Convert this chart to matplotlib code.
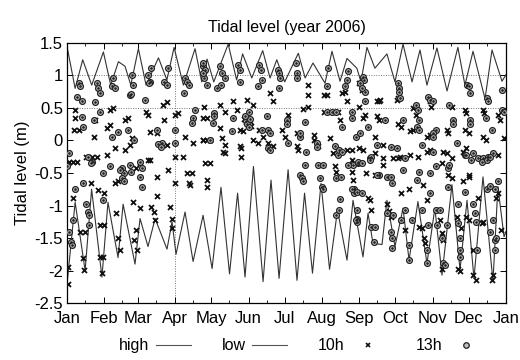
import numpy as np
import matplotlib
matplotlib.use('Agg')
import matplotlib.pyplot as plt
from matplotlib.ticker import FixedLocator, FuncFormatter
from matplotlib.lines import Line2D

plt.rcParams['font.family'] = ['Liberation Sans', 'DejaVu Sans']

# month starts (day of year 2006) and labels
month_days = [0, 31, 59, 90, 120, 151, 181, 212, 243, 273, 304, 334, 365]
month_labels = ['Jan', 'Feb', 'Mar', 'Apr', 'May', 'Jun', 'Jul', 'Aug', 'Sep', 'Oct', 'Nov', 'Dec', 'Jan']

# high water envelope (day, level m)
high_line = [(0, 1.44), (6.7, 0.80), (13, 1.24), (20.5, 0.85), (30.2, 1.36), (36.3, 0.85),
             (42.7, 1.21), (48.2, 1.14), (53, 0.85), (59.3, 1.41), (65.7, 0.85), (76, 1.27),
             (83, 0.93), (89, 1.43), (96.7, 0.85), (106.4, 1.41), (112, 0.90), (116.4, 1.25),
             (122, 0.90), (134, 1.48), (141, 0.93), (146, 1.33), (153.6, 0.96), (162.7, 1.38),
             (168.8, 0.96), (174.4, 1.24), (181, 0.90), (192.3, 1.34), (198, 0.96), (204.5, 1.19),
             (214.5, 0.88), (220.3, 1.37), (227, 0.91), (232.8, 1.26), (241, 1.11), (244.4, 0.90),
             (249.4, 1.43), (256, 1.11), (266, 1.33), (272.7, 0.90), (279.4, 1.48), (286.9, 0.90),
             (293.5, 1.39), (299.3, 0.85), (307.6, 1.42), (316, 0.76), (325, 1.43), (330.9, 0.85),
             (337.6, 1.37), (347.6, 0.64), (353.4, 1.39), (361.7, 0.91), (365, 1.01)]

# low water envelope (day, level m)
low_line = [(0, -2.2), (6.7, -0.95), (15, -2.0), (20.4, -0.75), (29, -2.1), (34, -0.95),
            (42.4, -1.8), (46.6, -0.98), (56.5, -1.9), (60.7, -1.2), (67.3, -1.63), (73.2, -1.2),
            (83.1, -1.67), (87.3, -1.25), (90.6, -1.75), (98.1, -1.1), (104.8, -1.86), (113.1, -1.15),
            (120.6, -1.97), (128, -0.72), (135.1, -2.05), (141.8, -0.81), (148, -2.1), (155, -0.4),
            (163, -2.17), (169.6, -0.61), (176.3, -2.12), (183.8, -0.45), (191.2, -2.15), (197.5, -0.81),
            (204.1, -2.04), (211.2, -0.66), (218.3, -1.98), (224.9, -1.07), (232.8, -1.84), (237.8, -0.92),
            (246.1, -1.79), (250.3, -1.12), (254.4, -1.58), (261.9, -1.6), (266, -0.92), (272.7, -1.63),
            (279.4, -1.04), (284.4, -1.84), (291.8, -0.94), (299.3, -1.89), (305.9, -1.04), (311.8, -2.07),
            (320.1, -0.68), (326.8, -1.99), (332.6, -0.92), (338.4, -2.12), (345.9, -0.56), (354.2, -2.17),
            (358.3, -0.71), (363.4, -1.48), (365, -1.4)]

# level at 10h (day, level m)
pts_10h = [(7, 0.47), (7, 0.35), (6, 0.16), (10, 0.16), (23, 0.32), (22, 0.05), (33, 0.19), (36, 0.24),
           (36, 0.47), (38, 0.5), (48, 0.32), (51, 0.35), (54, 0.04), (66, 0.44), (67, 0.39), (69, 0.13),
           (75, 0.11), (80, 0.55), (83, 0.59), (81, 0.32), (90, 0.39), (92, 0.42), (98, 0.05), (105, -0.04),
           (113, 0.0), (116, 0.0), (2, -0.33), (5, -0.33), (8, -0.33), (16, -0.25), (21, -0.25), (25, -0.25),
           (33, -0.22), (40, -0.12), (48, -0.15), (52, -0.07), (57, -0.42), (67, -0.3), (75, -0.56),
           (83, -0.07), (90, -0.25), (96, -0.25), (61, -0.35),
           (1, -1.94), (1, -2.2), (5, -0.89), (13, -1.81), (14, -1.99), (11, -1.4), (15, -1.4), (20, -0.66),
           (27, -1.79), (30, -1.79), (29, -2.04), (27, -1.3), (31, -1.3), (26, -0.76), (31, -0.81),
           (40, -0.66), (42, -0.63), (41, -1.12), (42, -1.5), (44, -1.68), (55, -0.94), (61, -1.04),
           (56, -1.53), (58, -1.68), (57, -1.38), (69, -0.3), (70, -1.02), (72, -1.1), (73, -1.22),
           (75, -0.86), (84, -0.45), (86, -1.02), (87, -1.2), (87, -1.35), (90, -0.66), (100, -0.5),
           (104, -0.5), (101, -0.66), (102, -0.68), (115, -0.35), (119, -0.35), (116, -0.61), (116, -0.71),
           (113, 0.34), (116, 0.34), (114, 0.52), (127, 0.55), (131, 0.44), (138, 0.6), (141, 0.47),
           (150, 0.62), (155, 0.55), (169, 0.73), (171, 0.6), (184, 0.39), (196, 0.49), (200, 0.52),
           (214, 0.7), (214, 0.44), (225, 0.44), (227, 0.32), (229, 0.73), (233, 0.6), (127, 0.19),
           (144, 0.16), (146, 0.14), (160, 0.16), (163, 0.06), (179, 0.16), (181, 0.06), (191, 0.11),
           (205, 0.08), (205, 0.01), (219, 0.03), (113, 0.01), (119, 0.01), (129, 0.03), (131, -0.07),
           (130, -0.17), (144, -0.09), (145, -0.12), (145, -0.25), (155, 0.01), (159, -0.04),
           (167, -0.04), (171, -0.09), (191, -0.09), (208, -0.09), (209, -0.09), (233, -0.15),
           (131, -0.2), (221, -0.2), (223, -0.4), (224, -0.48), (237, -0.48), (238, -0.61), (192, -0.15),
           (149, 0.28), (152, 0.3), (153, 0.22), (147, 0.33), (200, 0.85), (200, 0.7), (216, 0.7),
           (231, 0.75),
           (243, 0.88), (245, 0.78), (243, 0.52), (258, 0.6), (259, 0.6), (260, 0.62), (274, 0.62),
           (275, 0.65), (288, 0.5), (290, 0.39), (302, 0.6), (303, 0.52), (320, 0.52), (331, 0.47),
           (332, 0.42), (346, 0.47), (347, 0.42), (358, 0.39), (360, 0.32), (246, 0.34), (248, 0.39),
           (258, 0.37), (259, 0.32), (275, 0.26), (278, 0.21), (285, 0.14), (288, 0.16), (299, 0.06),
           (302, 0.08), (316, 0.16), (317, 0.11), (331, 0.16), (334, 0.11), (346, 0.06), (348, 0.01),
           (363, 0.03), (256, 0.06), (243, -0.12), (246, -0.15), (263, -0.07), (256, -0.2), (285, -0.22),
           (299, -0.17), (302, -0.15), (316, -0.2), (320, -0.27), (329, -0.17), (332, -0.12),
           (345, -0.27), (358, -0.22), (237, -0.15), (237, -0.3), (263, -0.38), (275, -0.27),
           (277, -0.25), (312, -0.35), (334, -0.53),
           (250, -0.89), (253, -1.07), (252, -0.92), (249, -0.5), (256, -0.53), (263, -0.27),
           (271, -0.27), (266, -0.97), (268, -1.09), (269, -1.17), (278, -0.81), (284, -0.74),
           (278, -1.22), (281, -1.38), (292, -0.25), (296, -0.68), (299, -0.92), (293, -1.33),
           (295, -1.35), (297, -1.5), (298, -1.58), (313, -0.17), (317, -0.53), (320, -0.58),
           (310, -1.22), (312, -1.43), (313, -1.53), (312, -1.97), (324, -1.17), (328, -1.35),
           (325, -1.97), (327, -2.0), (329, -0.63), (334, -0.56), (332, -1.17), (334, -1.22),
           (338, -1.68), (338, -2.07), (340, -2.15), (342, -0.89), (345, -1.27), (346, -1.25),
           (353, -2.15), (354, -2.07), (357, -0.89), (358, -0.81), (361, -1.38)]

# level at 13h (day, level m)
pts_13h = [(10, 0.88), (11, 0.83), (8, 0.67), (12, 0.6), (25, 0.88), (26, 0.8), (27, 0.73), (23, 0.59),
           (37, 0.83), (40, 0.8), (38, 0.96), (52, 0.7), (53, 0.72), (54, 1.01), (55, 0.85), (67, 1.01),
           (69, 0.9), (68, 0.88), (70, 1.11), (81, 0.9), (83, 0.85), (84, 1.11), (98, 0.96), (100, 0.9),
           (101, 0.85), (97, 0.73), (113, 1.14), (115, 1.08), (114, 0.96), (116, 0.85),
           (65, 0.62), (27, 0.44), (22, 0.32), (13, 0.21), (12, 0.36), (42, 0.13), (37, 0.05), (51, 0.16),
           (56, 0.0), (75, 0.16), (79, -0.04), (90, 0.16), (106, 0.47), (105, 0.35), (104, 0.27),
           (121, 0.27), (2, -0.2), (17, -0.25), (21, -0.33), (30, -0.5), (46, -0.43), (47, -0.5),
           (61, -0.33), (62, -0.42), (76, -0.05), (78, -0.1), (90, -0.04), (0, -0.4),
           (7, -0.74), (2, -1.4), (3, -1.56), (4, -1.61), (5, -1.22), (13, -0.66), (16, -0.97),
           (17, -1.1), (18, -1.15), (18, -1.3), (20, -0.35), (30, -0.92), (36, -0.4), (44, -0.45),
           (46, -0.58), (47, -0.63), (52, -0.38), (53, -0.48), (61, -0.56), (62, -0.71),
           (127, 1.14), (129, 1.03), (131, 0.96), (125, 0.8), (128, 0.85), (142, 1.16), (144, 1.08),
           (144, 0.9), (160, 1.16), (161, 1.08), (162, 0.93), (159, 0.83), (175, 1.08), (176, 1.03),
           (177, 0.96), (176, 0.8), (190, 1.19), (191, 1.03), (191, 0.96), (216, 0.83), (217, 1.11),
           (231, 0.83), (233, 0.93), (234, 1.06), (113, 1.19), (113, 1.03),
           (122, 0.42), (122, 0.37), (138, 0.34), (151, 0.44), (166, 0.37), (183, 0.32), (183, 0.26),
           (198, 0.29), (216, 0.44), (220, 0.44), (224, 0.44), (229, 0.21), (237, 0.34), (119, 0.01),
           (137, 0.14), (162, 0.16), (167, 0.16), (169, 0.11), (167, -0.12), (169, -0.15), (184, -0.04),
           (194, 0.06), (194, 0.11), (208, -0.04), (208, -0.1), (225, -0.22), (209, -0.38),
           (213, -0.38), (198, -0.38), (149, 0.3), (150, 0.25), (151, 0.2), (152, 0.33), (148, 0.38),
           (194, -0.53), (195, -0.58), (196, -0.63), (199, -0.17), (210, -0.58), (212, -0.71),
           (213, -0.74), (224, -0.58), (224, -1.15), (226, -1.07), (227, -0.9), (223, -0.09),
           (226, -0.14), (229, -0.17), (228, -0.56), (238, -0.38), (239, -0.74), (241, -1.07),
           (241, -1.2), (234, -0.38), (242, -0.35), (239, -0.81),
           (246, 0.98), (247, 0.93), (244, 0.88), (248, 0.75), (245, 0.8), (248, 0.6), (275, 0.88),
           (276, 0.8), (276, 0.75), (277, 0.65), (290, 0.55), (292, 0.47), (300, 0.67), (302, 0.62),
           (304, 0.6), (318, 0.55), (333, 0.85), (334, 0.83), (335, 0.73), (349, 0.65), (350, 0.6),
           (362, 0.78), (362, 0.47), (363, 0.44),
           (237, 0.44), (250, 0.21), (240, 0.06), (244, 0.11), (264, 0.32), (279, 0.32), (293, 0.32),
           (291, 0.21), (293, 0.16), (307, 0.16), (304, 0.11), (304, 0.06), (321, 0.32), (321, 0.26),
           (335, 0.32), (335, 0.26), (348, 0.34), (353, 0.16), (258, -0.07), (269, -0.1), (274, -0.12),
           (295, -0.07), (281, -0.27), (324, -0.04), (338, -0.2), (342, -0.27), (346, -0.27),
           (350, -0.25), (354, -0.2), (252, -0.27), (253, -0.25), (242, -0.33), (245, -0.35),
           (259, -0.53), (266, -0.56), (293, -0.48), (302, -0.5), (317, -0.43), (331, -0.22),
           (237, -0.74), (241, -0.79), (245, -0.81), (241, -1.25), (240, -1.22), (253, -1.33),
           (256, -1.33), (255, -1.56), (258, -0.53), (252, -0.3), (269, -0.56), (270, -0.66),
           (266, -1.12), (271, -1.15), (269, -1.4), (270, -1.5), (270, -1.66), (279, -0.45),
           (281, -1.07), (287, -1.22), (284, -1.61), (284, -1.84), (291, -0.61), (299, -1.68),
           (299, -1.89), (302, -0.81), (304, -0.17), (307, -0.4), (307, -1.07), (310, -1.07),
           (308, -1.3), (316, -1.3), (317, -0.71), (318, -0.38), (312, -1.5), (313, -1.89),
           (314, -1.92), (325, -0.97), (327, -1.5), (327, -1.68), (327, -1.79), (331, -0.79),
           (332, -0.22), (336, -0.3), (345, -0.33), (349, -0.3), (352, -0.25), (338, -0.97),
           (339, -1.12), (340, -1.25), (341, -1.68), (349, -0.74), (352, -0.7), (356, -0.74),
           (358, -0.63), (354, -1.22), (356, -1.53), (356, -1.68), (352, -1.4), (357, -1.5),
           (300, -1.3), (295, -1.07), (278, -1.22), (325, -1.27)]

high = np.array(high_line)
low = np.array(low_line)
p10 = np.array(pts_10h)
p13 = np.array(pts_13h)

fig = plt.figure(figsize=(5.2, 3.6), dpi=100)
ax = fig.add_axes([0.129, 0.158, 0.844, 0.723])

# the few dotted grid lines that show in the original
for yv in (1.0, 0.5):
    ax.axhline(yv, color='#777777', lw=0.7, ls=(0, (1, 1.5)), zorder=1)
ax.axvline(month_days[3], color='#777777', lw=0.7, ls=(0, (1, 1.5)), zorder=1)

ax.plot(high[:, 0], high[:, 1], color='#333333', lw=0.8, zorder=2, solid_joinstyle='round')
ax.plot(low[:, 0], low[:, 1], color='#333333', lw=0.8, zorder=2, solid_joinstyle='round')
ax.plot(p10[:, 0], p10[:, 1], ls='none', marker='x', ms=3.6, mew=1.3, color='#111111', zorder=3)
ax.plot(p13[:, 0], p13[:, 1], ls='none', marker='o', ms=4.2, mew=0.9,
        mfc='#c0c0c0', mec='#222222', zorder=3)
ax.plot(p13[:, 0], p13[:, 1], ls='none', marker='.', ms=1.8, color='#222222', zorder=4)

ax.set_xlim(0, 365)
ax.set_ylim(-2.5, 1.5)
ax.xaxis.set_major_locator(FixedLocator(month_days))
ax.xaxis.set_minor_locator(FixedLocator([d + 15 for d in month_days[:-1]]))
ax.set_xticklabels(month_labels)
ax.set_yticks(np.arange(-2.5, 1.51, 0.5))
ax.yaxis.set_major_formatter(FuncFormatter(lambda v, p: '%g' % round(v, 2)))
ax.tick_params(which='both', direction='in', top=True, right=True, labelsize=12, pad=3)
ax.tick_params(axis='x', which='major', pad=6)
ax.tick_params(which='major', length=4, width=0.7)
ax.tick_params(which='minor', length=2, width=0.6)
for s in ax.spines.values():
    s.set_linewidth(0.9)

ax.set_ylabel('Tidal level (m)', fontsize=12, labelpad=3)
ax.set_title('Tidal level (year 2006)', fontsize=11.5, pad=8)

handles = [Line2D([], [], color='#555555', lw=0.8),
           Line2D([], [], color='#555555', lw=0.8),
           Line2D([], [], ls='none', marker='x', ms=3.5, mew=1.2, color='#111111'),
           Line2D([], [], ls='none', marker='o', ms=4, mew=0.9, mfc='#c0c0c0', mec='#222222')]
fig.legend(handles, ['high', 'low', '10h', '13h'], loc='center', bbox_to_anchor=(0.58, 0.04),
           ncol=4, frameon=False, markerfirst=False, handlelength=2.2, handletextpad=0.4,
           columnspacing=1.9, fontsize=11.5)

fig.savefig('out.png', dpi=100)
